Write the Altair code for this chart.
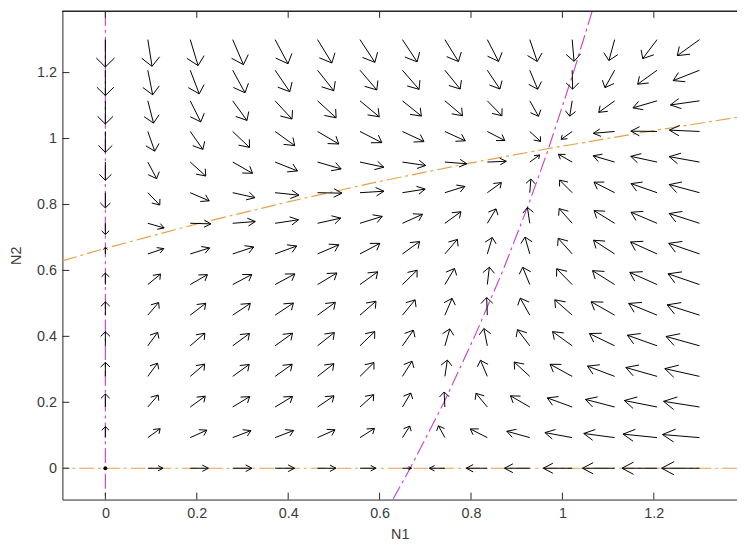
import math
import altair as alt
import pandas as pd

# ---------------- data ----------------
N1_GRID = [0.0, 0.0929, 0.1857, 0.2786, 0.3714, 0.4643, 0.5571, 0.65,
           0.7429, 0.8357, 0.9286, 1.0214, 1.1143, 1.2071, 1.3]
N2_GRID = [0.0, 0.0929, 0.1857, 0.2786, 0.3714, 0.4643, 0.5571, 0.65,
           0.7429, 0.8357, 0.9286, 1.0214, 1.1143, 1.2071, 1.3]

# dN1/dt : DN1_DT[i][j] -> column N1_GRID[i], going up through N2_GRID[j]
DN1_DT = [
    [0.0] * 15,
    [0.0533, 0.0566, 0.0598, 0.0628, 0.0656, 0.0684, 0.0710, 0.0735, 0.0759, 0.0782, 0.0805, 0.0826, 0.0847, 0.0867, 0.0886],
    [0.0894, 0.0960, 0.1022, 0.1082, 0.1139, 0.1194, 0.1247, 0.1297, 0.1345, 0.1392, 0.1436, 0.1479, 0.1520, 0.1560, 0.1598],
    [0.1082, 0.1181, 0.1275, 0.1365, 0.1451, 0.1533, 0.1612, 0.1687, 0.1760, 0.1829, 0.1896, 0.1960, 0.2022, 0.2082, 0.2139],
    [0.1098, 0.1229, 0.1355, 0.1475, 0.1589, 0.1699, 0.1804, 0.1905, 0.2001, 0.2094, 0.2183, 0.2269, 0.2351, 0.2430, 0.2507],
    [0.0941, 0.1106, 0.1262, 0.1412, 0.1555, 0.1692, 0.1824, 0.1950, 0.2070, 0.2186, 0.2297, 0.2405, 0.2508, 0.2607, 0.2703],
    [0.0612, 0.0809, 0.0998, 0.1178, 0.1349, 0.1514, 0.1671, 0.1822, 0.1967, 0.2106, 0.2240, 0.2368, 0.2492, 0.2611, 0.2726],
    [0.0111, 0.0341, 0.0560, 0.0770, 0.0970, 0.1162, 0.1346, 0.1522, 0.1691, 0.1853, 0.2009, 0.2159, 0.2304, 0.2443, 0.2577],
    [-0.0564, -0.0301, -0.0050, 0.0190, 0.0419, 0.0638, 0.0848, 0.1050, 0.1243, 0.1428, 0.1606, 0.1778, 0.1943, 0.2102, 0.2255],
    [-0.1410, -0.1114, -0.0832, -0.0562, -0.0304, -0.0058, 0.0179, 0.0405, 0.0623, 0.0831, 0.1031, 0.1224, 0.1410, 0.1589, 0.1761],
    [-0.2429, -0.2100, -0.1787, -0.1487, -0.1201, -0.0927, -0.0664, -0.0412, -0.0171, 0.0060, 0.0283, 0.0498, 0.0704, 0.0903, 0.1094],
    [-0.3620, -0.3258, -0.2913, -0.2583, -0.2269, -0.1967, -0.1678, -0.1401, -0.1136, -0.0881, -0.0636, -0.0400, -0.0174, 0.0045, 0.0255],
    [-0.4984, -0.4590, -0.4213, -0.3853, -0.3510, -0.3181, -0.2866, -0.2564, -0.2274, -0.1997, -0.1729, -0.1472, -0.1225, -0.0986, -0.0757],
    [-0.6520, -0.6092, -0.5684, -0.5294, -0.4923, -0.4566, -0.4225, -0.3898, -0.3584, -0.3283, -0.2994, -0.2715, -0.2447, -0.2188, -0.1940],
    [-0.8229, -0.7769, -0.7329, -0.6910, -0.6509, -0.6126, -0.5758, -0.5405, -0.5067, -0.4744, -0.4432, -0.4131, -0.3843, -0.3565, -0.3297],
]

# dN2/dt : DN2_DT[j][i] -> row N2_GRID[j], going right through N1_GRID[i]
DN2_DT = [
    [0.0] * 15,
    [0.0533, 0.0566, 0.0598, 0.0628, 0.0656, 0.0684, 0.0710, 0.0735, 0.0759, 0.0782, 0.0805, 0.0826, 0.0847, 0.0867, 0.0886],
    [0.0894, 0.0960, 0.1022, 0.1082, 0.1139, 0.1194, 0.1247, 0.1297, 0.1345, 0.1392, 0.1436, 0.1479, 0.1520, 0.1560, 0.1598],
    [0.1082, 0.1181, 0.1275, 0.1365, 0.1451, 0.1533, 0.1612, 0.1687, 0.1760, 0.1829, 0.1896, 0.1960, 0.2022, 0.2082, 0.2139],
    [0.1098, 0.1229, 0.1355, 0.1475, 0.1589, 0.1699, 0.1804, 0.1905, 0.2001, 0.2094, 0.2183, 0.2269, 0.2351, 0.2430, 0.2507],
    [0.0941, 0.1106, 0.1262, 0.1412, 0.1555, 0.1692, 0.1824, 0.1950, 0.2070, 0.2186, 0.2297, 0.2405, 0.2508, 0.2607, 0.2703],
    [0.0612, 0.0809, 0.0998, 0.1178, 0.1349, 0.1514, 0.1671, 0.1822, 0.1967, 0.2106, 0.2240, 0.2368, 0.2492, 0.2611, 0.2726],
    [0.0111, 0.0341, 0.0560, 0.0770, 0.0970, 0.1162, 0.1346, 0.1522, 0.1691, 0.1853, 0.2009, 0.2159, 0.2304, 0.2443, 0.2577],
    [-0.0564, -0.0301, -0.0050, 0.0190, 0.0419, 0.0638, 0.0848, 0.1050, 0.1243, 0.1428, 0.1606, 0.1778, 0.1943, 0.2102, 0.2255],
    [-0.1410, -0.1114, -0.0832, -0.0562, -0.0304, -0.0058, 0.0179, 0.0405, 0.0623, 0.0831, 0.1031, 0.1224, 0.1410, 0.1589, 0.1761],
    [-0.2429, -0.2100, -0.1787, -0.1487, -0.1201, -0.0927, -0.0664, -0.0412, -0.0171, 0.0060, 0.0283, 0.0498, 0.0704, 0.0903, 0.1094],
    [-0.3620, -0.3258, -0.2913, -0.2583, -0.2269, -0.1967, -0.1678, -0.1401, -0.1136, -0.0881, -0.0636, -0.0400, -0.0174, 0.0045, 0.0255],
    [-0.4984, -0.4590, -0.4213, -0.3853, -0.3510, -0.3181, -0.2866, -0.2564, -0.2274, -0.1997, -0.1729, -0.1472, -0.1225, -0.0986, -0.0757],
    [-0.6520, -0.6092, -0.5684, -0.5294, -0.4923, -0.4566, -0.4225, -0.3898, -0.3584, -0.3283, -0.2994, -0.2715, -0.2447, -0.2188, -0.1940],
    [-0.8229, -0.7769, -0.7329, -0.6910, -0.6509, -0.6126, -0.5758, -0.5405, -0.5067, -0.4744, -0.4432, -0.4131, -0.3843, -0.3565, -0.3297],
]

# nullclines
NULL_N2_CURVE_N1 = [-0.094, 0.0, 0.2, 0.4, 0.6, 0.8, 0.967, 1.2, 1.39]
NULL_N2_CURVE_N2 = [0.629, 0.667, 0.741, 0.808, 0.870, 0.926, 0.969, 1.024, 1.066]
NULL_N1_CURVE_N2 = [-0.095, 0.0, 0.2, 0.4, 0.6, 0.8, 0.967, 1.2, 1.39]
NULL_N1_CURVE_N1 = [0.629, 0.667, 0.741, 0.808, 0.870, 0.926, 0.969, 1.024, 1.066]
NULL_N1_AXIS = [0.0]   # N1 = 0
NULL_N2_AXIS = [0.0]   # N2 = 0
EQUILIBRIUM_N1 = [0.0]
EQUILIBRIUM_N2 = [0.0]

X_TICKS = [0, 0.2, 0.4, 0.6, 0.8, 1, 1.2]
Y_TICKS = [0, 0.2, 0.4, 0.6, 0.8, 1, 1.2]

# ---------------- styling ----------------
W, H = 682, 494
X_DOMAIN = [-0.094, 1.382]
Y_DOMAIN = [-0.095, 1.387]
AXIS_COLOR = "#262626"
LABEL_COLOR = "#3a3a3a"
MAGENTA = "#CC40CC"
ORANGE = "#E9A048"
DASH = [15, 4, 3, 4]
LINE_W = 1.15
ARROW_MAX = 0.083       # longest arrow, in data units (quiver autoscale)
HEAD_A, HEAD_B = 0.33, 0.73
FONT = "Liberation Sans"

# ---------------- quiver geometry (display scaling only) ----------------
vecs = []
for i, x in enumerate(N1_GRID):
    for j, y in enumerate(N2_GRID):
        u = DN1_DT[i][j]
        v = DN2_DT[j][i]
        L = math.hypot(u, v)
        k = L ** (-2.0 / 3.0) if L > 0 else 0.0
        vecs.append((x, y, u * k, v * k))
maxlen = max(math.hypot(a, b) for _, _, a, b in vecs)
s = ARROW_MAX / maxlen

segs = []
for x, y, a, b in vecs:
    du, dv = a * s, b * s
    tx, ty = x + du, y + dv
    segs.append({"x": x, "y": y, "x2": tx, "y2": ty})
    if du == 0 and dv == 0:
        continue
    segs.append({"x": tx, "y": ty,
                 "x2": tx - HEAD_A * (du + HEAD_B * dv),
                 "y2": ty - HEAD_A * (dv - HEAD_B * du)})
    segs.append({"x": tx, "y": ty,
                 "x2": tx - HEAD_A * (du - HEAD_B * dv),
                 "y2": ty - HEAD_A * (dv + HEAD_B * du)})
seg_df = pd.DataFrame(segs)

xs = alt.Scale(domain=X_DOMAIN, nice=False, zero=False)
ys = alt.Scale(domain=Y_DOMAIN, nice=False, zero=False)

x_axis = alt.Axis(values=X_TICKS, format=".1~f", title="N1", grid=False, ticks=False,
                  domainColor=AXIS_COLOR, labelColor=LABEL_COLOR, titleColor=LABEL_COLOR,
                  labelFont=FONT, titleFont=FONT, labelFontSize=14.5, titleFontSize=14.5,
                  titleFontWeight="normal", labelPadding=7, titlePadding=8)
y_axis = alt.Axis(values=Y_TICKS, format=".1~f", title="N2", grid=False, ticks=False,
                  domainColor=AXIS_COLOR, labelColor=LABEL_COLOR, titleColor=LABEL_COLOR,
                  labelFont=FONT, titleFont=FONT, labelFontSize=14.5, titleFontSize=14.5,
                  titleFontWeight="normal", labelPadding=6, titlePadding=13)


def X(f):
    return alt.X(f, scale=xs, axis=x_axis)


def Y(f):
    return alt.Y(f, scale=ys, axis=y_axis)


# nullclines
n1_axis_line = alt.Chart(pd.DataFrame({"n1": NULL_N1_AXIS})).mark_rule(
    color=MAGENTA, strokeWidth=LINE_W, strokeDash=DASH).encode(x=X("n1:Q"))
n2_axis_line = alt.Chart(pd.DataFrame({"n2": NULL_N2_AXIS})).mark_rule(
    color=ORANGE, strokeWidth=LINE_W, strokeDash=DASH).encode(y=Y("n2:Q"))
n2_curve = alt.Chart(pd.DataFrame({"a": NULL_N2_CURVE_N1, "b": NULL_N2_CURVE_N2,
                                   "o": list(range(len(NULL_N2_CURVE_N1)))})).mark_line(
    color=ORANGE, strokeWidth=LINE_W, strokeDash=DASH, clip=True).encode(
    x=X("a:Q"), y=Y("b:Q"), order="o:Q")
n1_curve = alt.Chart(pd.DataFrame({"a": NULL_N1_CURVE_N1, "b": NULL_N1_CURVE_N2,
                                   "o": list(range(len(NULL_N1_CURVE_N1)))})).mark_line(
    color=MAGENTA, strokeWidth=LINE_W, strokeDash=DASH, clip=True).encode(
    x=X("a:Q"), y=Y("b:Q"), order="o:Q")

arrows = alt.Chart(seg_df).mark_rule(color="black", strokeWidth=1).encode(
    x=X("x:Q"), y=Y("y:Q"), x2="x2:Q", y2="y2:Q")

eq = alt.Chart(pd.DataFrame({"a": EQUILIBRIUM_N1, "b": EQUILIBRIUM_N2})).mark_circle(
    color="black", size=16, opacity=1).encode(x=X("a:Q"), y=Y("b:Q"))

# inward tick marks and top frame line
xt = pd.DataFrame({"t": X_TICKS})
yt = pd.DataFrame({"t": Y_TICKS})
bottom_ticks = alt.Chart(xt).mark_rule(color=AXIS_COLOR).encode(
    x=X("t:Q"), y=alt.value(H), y2=alt.value(H - 7))
top_ticks = alt.Chart(xt).mark_rule(color=AXIS_COLOR).encode(
    x=X("t:Q"), y=alt.value(0), y2=alt.value(7))
left_ticks = alt.Chart(yt).mark_rule(color=AXIS_COLOR).encode(
    y=Y("t:Q"), x=alt.value(0), x2=alt.value(7))
top_line = alt.Chart(xt).mark_rule(color=AXIS_COLOR).encode(
    x=alt.value(0), x2=alt.value(W), y=alt.value(0.5))

chart = alt.layer(
    n1_axis_line, n2_axis_line, n2_curve, n1_curve, arrows, eq,
    bottom_ticks, top_ticks, left_ticks, top_line
).properties(
    width=W, height=H,
    autosize=alt.AutoSizeParams(type="none"),
    padding={"left": 55, "top": 0, "right": 0, "bottom": 45},
    background="white",
).configure_view(stroke=None)

chart.save("out.html", embed_options={"renderer": "svg", "actions": False})
